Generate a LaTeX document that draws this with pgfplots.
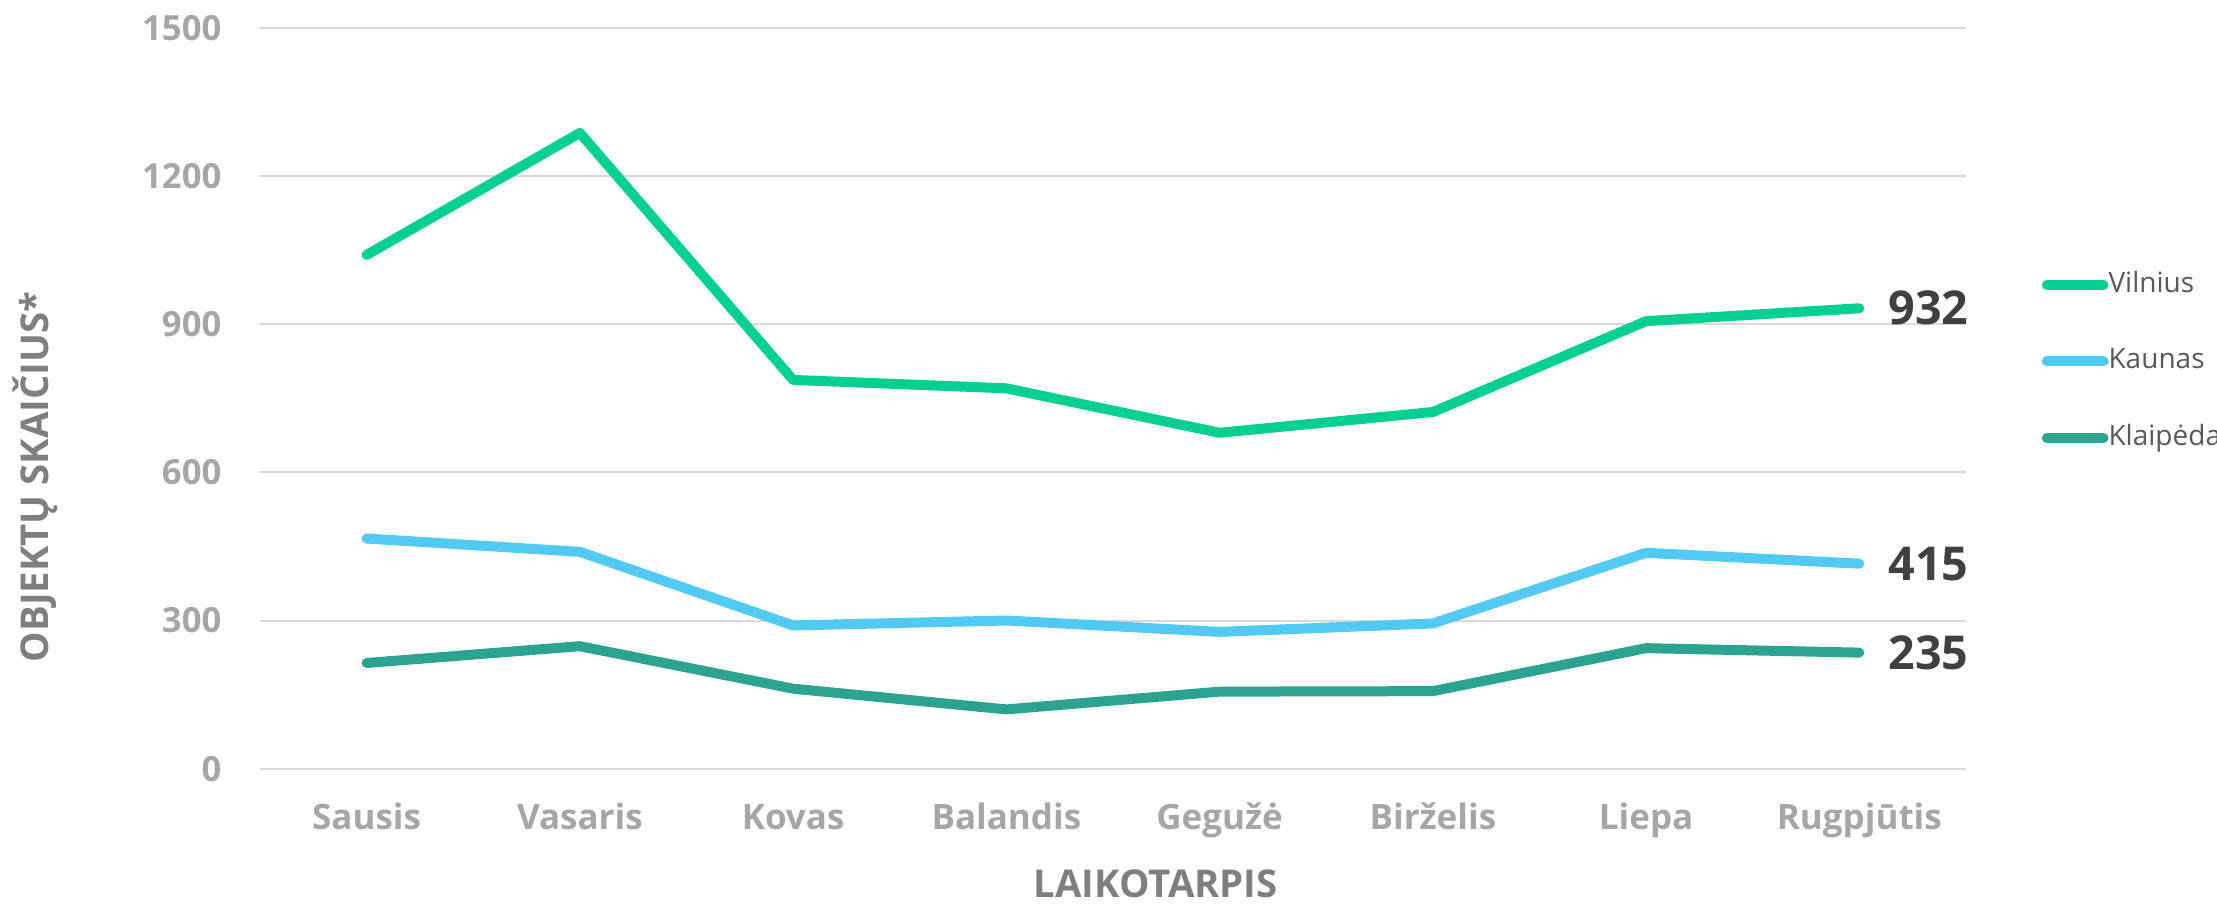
\documentclass[border=0pt]{standalone}
\usepackage{fontspec}
\setmainfont{Open Sans}
\usepackage{pgfplots}
\pgfplotsset{compat=1.18}

\definecolor{vilnius}{HTML}{06D091}
\definecolor{kaunas}{HTML}{52C9F2}
\definecolor{klaipeda}{HTML}{2CA391}
\definecolor{gridgray}{HTML}{D9D9D9}
\definecolor{ticktext}{HTML}{A6A6A6}
\definecolor{titletext}{HTML}{7F7F7F}
\definecolor{legtext}{HTML}{595959}
\definecolor{valtext}{HTML}{404040}

\begin{document}
\begin{tikzpicture}
% 1 px of the 2217x903 reference = 0.3pt
\useasboundingbox (-78pt,-40.29pt) rectangle (587.1pt,230.61pt);
\begin{axis}[
    at={(0pt,0pt)}, anchor=south west,
    scale only axis,
    width=511.8pt, height=222.3pt,
    xmin=-0.5, xmax=7.5,
    ymin=0, ymax=1500,
    clip=false,
    axis line style={draw=none},
    tick style={draw=none},
    major tick length=0pt,
    xtick={0,1,2,3,4,5,6,7},
    xticklabels={Sausis,Vasaris,Kovas,Balandis,Gegužė,Birželis,Liepa,Rugpjūtis},
    ytick={0,300,600,900,1200,1500},
    ymajorgrids,
    grid style={gridgray, line width=0.6pt},
    /pgf/number format/assume math mode=true,
    /pgf/number format/set thousands separator={},
    xticklabel style={anchor=base, inner sep=0pt, yshift=-18.3pt,
        font=\fontsize{10.5}{12}\selectfont\bfseries, text=ticktext},
    yticklabel style={anchor=east, inner sep=0pt, xshift=-11.4pt,
        font=\fontsize{10.4}{12}\selectfont\bfseries, text=ticktext},
    xlabel={LAIKOTARPIS},
    xlabel style={at={([yshift=-34.6pt]axis description cs:0.525,0)}, anchor=center,
        inner sep=0pt, font=\fontsize{11.5}{13}\selectfont\bfseries, text=titletext},
    ylabel={OBJEKTŲ SKAIČIUS*},
    ylabel style={at={([xshift=-67.5pt]axis description cs:0,0.394)}, anchor=center,
        inner sep=0pt, font=\fontsize{11.5}{13}\selectfont\bfseries, text=titletext},
    every axis plot/.append style={line width=3pt, line cap=round, line join=round},
    legend image code/.code={\draw (0pt,0pt) -- (17pt,0pt);},
    legend cell align=left,
    legend style={at={(axis description cs:1.0445,0.671)}, anchor=north west,
        draw=none, fill=none, inner sep=0pt, outer sep=0pt,
        row sep=15pt, column sep=0pt,
        nodes={inner sep=0pt, text height=6.2pt, text depth=1.8pt,
            font=\fontsize{8.4}{10}\selectfont, text=legtext}},
]
\addplot[vilnius] coordinates {
    (0,1040) (1,1287) (2,787) (3,770) (4,680) (5,722) (6,906) (7,932)
};
\addplot[kaunas] coordinates {
    (0,466) (1,439) (2,290) (3,300) (4,277) (5,294) (6,437) (7,415)
};
\addplot[klaipeda] coordinates {
    (0,214) (1,248) (2,162) (3,120) (4,156) (5,157) (6,244) (7,235)
};
\legend{Vilnius,Kaunas,Klaipėda}

% value labels at the last month
\addplot[draw=none, forget plot, nodes near coords, point meta=y,
    nodes near coords style={anchor=west, inner sep=0pt, xshift=7.2pt,
        font=\fontsize{14}{16}\selectfont\bfseries, text=valtext}]
    coordinates {(7,932) (7,415) (7,235)};
\end{axis}
\end{tikzpicture}
\end{document}
